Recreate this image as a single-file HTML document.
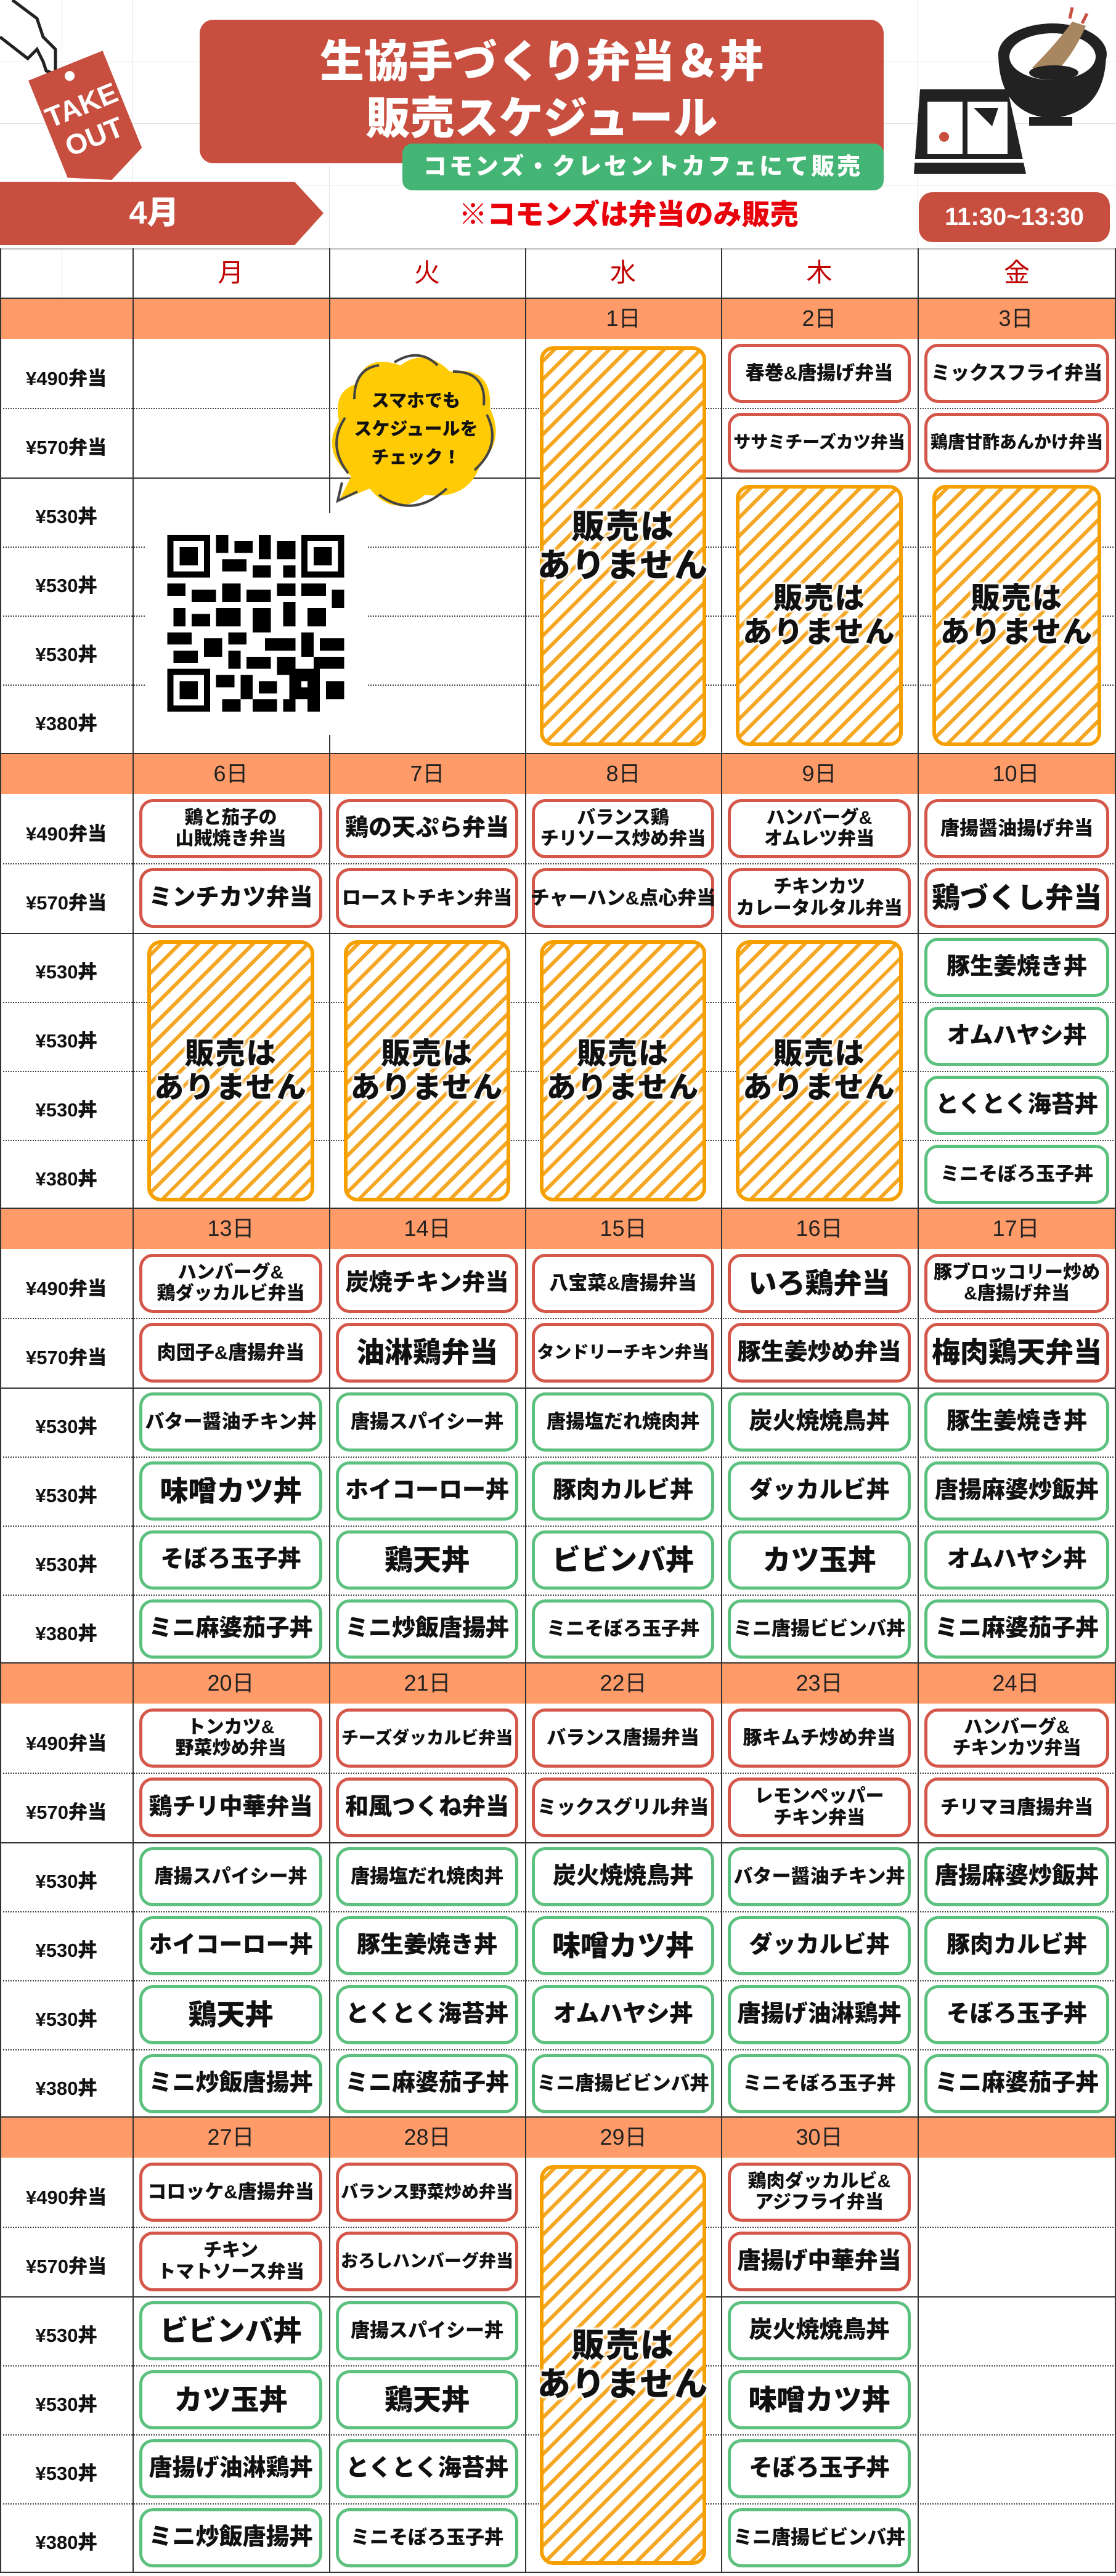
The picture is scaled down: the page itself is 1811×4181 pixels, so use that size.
<!DOCTYPE html>
<html><head><meta charset="utf-8">
<style>
*{margin:0;padding:0;box-sizing:border-box}
body{width:1811px;height:4181px;position:relative;background:#fff;font-family:"Liberation Sans","Noto Sans CJK JP",sans-serif;overflow:hidden}
.a{position:absolute}
.wk{position:absolute;left:0;width:1811px;height:740px}
.or{position:absolute;left:0;top:0;width:1811px;height:67px;background:#ff9b68}
.hs{position:absolute;left:0;width:1811px;height:0;border-top:2px solid #333}
.hd{position:absolute;left:0;width:1811px;height:0;border-top:2px dotted #444}
.vl{position:absolute;top:0;width:2px;height:740px;background:#333}
.dn{position:absolute;top:0;height:67px;width:319px;text-align:center;font-size:36px;line-height:67px;color:#222}
.lb{position:absolute;left:0;width:215px;text-align:center;font-size:31px;font-weight:900;color:#111}
.g{position:absolute;top:67px;left:215px;width:1596px;height:673px;display:grid;grid-template-columns:319px 318px 318px 319px 322px;grid-template-rows:112px 113px 112px 112px 112px 112px}
.g>div{padding:8px 11px}
.g>div>span{display:flex;width:100%;height:100%;align-items:center;justify-content:center;text-align:center;background:#fff;border-radius:22px;font-weight:900;line-height:1.15;color:#111;white-space:nowrap}
.r>span{border:5px solid #d4574a}
.n>span{border:5px solid #5cc07e}
.f1>span{font-size:46px}.f2>span{font-size:38px}.f3>span{font-size:31px}.f4>span{font-size:28px}.t>span{font-size:30px}
.h{padding:12px 24px!important}
.h>span{border:6px solid #f5a000!important;background:repeating-linear-gradient(135deg,#fff 0 9px,#f5a623 9px 15px,#fff 15px 21px)!important;font-size:48px;line-height:1.5;letter-spacing:2px;text-shadow:0 0 4px #fff,0 0 4px #fff,0 0 6px #fff,0 0 8px #fff,2px 2px 3px #fff,-2px -2px 3px #fff,2px -2px 3px #fff,-2px 2px 3px #fff}
.big>span{font-size:54px}
</style></head><body>

<div class="a" style="left:0;top:100px;width:1811px;height:1px;background:#e4e4e4"></div>
<div class="a" style="left:0;top:200px;width:1811px;height:1px;background:#e4e4e4"></div>
<div class="a" style="left:0;top:300px;width:1811px;height:1px;background:#e4e4e4"></div>
<div class="a" style="left:100px;top:0;width:1px;height:483px;background:#e4e4e4"></div>
<div class="a" style="left:215px;top:0;width:1px;height:403px;background:#e4e4e4"></div>
<div class="a" style="left:534px;top:270px;width:1px;height:133px;background:#e4e4e4"></div>
<div class="a" style="left:1489px;top:0;width:1px;height:403px;background:#e4e4e4"></div>

<svg class="a" style="left:0;top:0" width="330" height="300" viewBox="0 0 330 300">
<path d="M0 60 L45 95 L60 80 L70 100 L75 115 L90 120 L90 80 L70 60 L60 30 L20 0" fill="#fff" stroke="#222" stroke-width="5"/>
<g transform="rotate(-22 140 190)">
<path d="M75 100 L205 100 L205 270 L140 300 L75 270 Z" fill="#c84f3f"/>
<circle cx="140" cy="118" r="8" fill="#fff"/>
<text x="140" y="185" text-anchor="middle" font-size="46" font-weight="900" fill="#fff" font-family="Liberation Sans,sans-serif">TAKE</text>
<text x="140" y="240" text-anchor="middle" font-size="46" font-weight="900" fill="#fff" font-family="Liberation Sans,sans-serif">OUT</text>
</g>
</svg>

<div class="a" style="left:324px;top:32px;width:1110px;height:233px;background:#c84f3f;border-radius:22px"></div>
<div class="a" style="left:324px;top:55px;width:1110px;text-align:center;color:#fff;font-size:72px;font-weight:900;line-height:92px">生協手づくり弁当＆丼<br>販売スケジュール</div>
<div class="a" style="left:653px;top:233px;width:781px;height:76px;background:#45b575;border-radius:16px;color:#fff;font-size:38px;font-weight:900;text-align:center;line-height:76px;letter-spacing:4px">コモンズ・クレセントカフェにて販売</div>

<svg class="a" style="left:1470px;top:0" width="341" height="290" viewBox="0 0 341 290">
<path d="M270 12 L266 30 M294 22 L286 38" stroke="#c84f3f" stroke-width="5"/>
<path d="M150 85 Q150 185 235 192 Q325 185 325 85 Z" fill="#222"/>
<ellipse cx="238" cy="88" rx="88" ry="50" fill="#222"/>
<ellipse cx="238" cy="92" rx="70" ry="38" fill="#fff"/>
<path d="M205 110 Q245 70 270 35 L292 42 Q270 95 232 128 Z" fill="#a88760"/>
<ellipse cx="240" cy="118" rx="40" ry="12" fill="#222"/>
<rect x="200" y="190" width="70" height="14" fill="#222"/>
<path d="M23 145 L165 145 L195 282 L13 282 Z" fill="#222"/>
<rect x="35" y="165" width="130" height="85" fill="#fff"/>
<rect x="92" y="165" width="8" height="85" fill="#222"/>
<path d="M110 175 L150 175 L140 205 Z" fill="#222"/>
<circle cx="62" cy="222" r="8" fill="#c84f3f"/>
<rect x="13" y="258" width="182" height="6" fill="#fff"/>
</svg>

<svg class="a" style="left:0;top:295px" width="530" height="103" viewBox="0 0 530 103">
<path d="M0 0 L478 0 L525 51 L478 103 L0 103 Z" fill="#c84f3f"/>
</svg>
<div class="a" style="left:150px;top:295px;width:200px;height:103px;color:#fff;font-size:52px;font-weight:900;line-height:103px;text-align:center">4月</div>
<div class="a" style="left:640px;top:318px;width:760px;text-align:center;color:#e8000b;font-size:46px;font-weight:900;line-height:60px">※コモンズは弁当のみ販売</div>
<div class="a" style="left:1491px;top:312px;width:310px;height:81px;background:#c84f3f;border-radius:22px;color:#fff;font-size:40px;font-weight:700;line-height:81px;text-align:center">11:30~13:30</div>

<div class="a" style="left:0;top:403px;width:1811px;height:2px;background:#bbb"></div>
<div class="a" style="left:0;top:403px;width:2px;height:80px;background:#333"></div>
<div class="a" style="left:215px;top:403px;width:2px;height:80px;background:#333"></div>
<div class="a" style="left:534px;top:403px;width:2px;height:80px;background:#333"></div>
<div class="a" style="left:852px;top:403px;width:2px;height:80px;background:#333"></div>
<div class="a" style="left:1170px;top:403px;width:2px;height:80px;background:#333"></div>
<div class="a" style="left:1489px;top:403px;width:2px;height:80px;background:#333"></div>
<div class="a" style="left:1809px;top:403px;width:2px;height:80px;background:#333"></div>
<div class="a" style="top:403px;left:215px;width:319px;height:80px;line-height:80px;text-align:center;color:#c00000;font-size:42px">月</div>
<div class="a" style="top:403px;left:534px;width:318px;height:80px;line-height:80px;text-align:center;color:#c00000;font-size:42px">火</div>
<div class="a" style="top:403px;left:852px;width:318px;height:80px;line-height:80px;text-align:center;color:#c00000;font-size:42px">水</div>
<div class="a" style="top:403px;left:1170px;width:319px;height:80px;line-height:80px;text-align:center;color:#c00000;font-size:42px">木</div>
<div class="a" style="top:403px;left:1489px;width:322px;height:80px;line-height:80px;text-align:center;color:#c00000;font-size:42px">金</div>

<!-- WEEK 1 -->
<div class="wk" style="top:483px">
<div class="or"></div>
<div class="hs" style="top:0"></div><div class="hd" style="top:179px"></div><div class="hs" style="top:292px"></div><div class="hd" style="top:404px"></div><div class="hd" style="top:516px"></div><div class="hd" style="top:628px"></div><div class="hs" style="top:739px"></div>
<div class="vl" style="left:0"></div><div class="vl" style="left:215px"></div><div class="vl" style="left:534px"></div><div class="vl" style="left:852px"></div><div class="vl" style="left:1170px"></div><div class="vl" style="left:1489px"></div><div class="vl" style="left:1809px"></div>
<div class="dn" style="left:852px">1日</div><div class="dn" style="left:1170px">2日</div><div class="dn" style="left:1489px">3日</div>
<div class="lb" style="top:106px">¥490弁当</div><div class="lb" style="top:218px">¥570弁当</div><div class="lb" style="top:330px">¥530丼</div><div class="lb" style="top:442px">¥530丼</div><div class="lb" style="top:554px">¥530丼</div><div class="lb" style="top:666px">¥380丼</div>
<div class="a" style="left:236px;top:350px;width:360px;height:360px;background:#fff"></div>
<svg class="a" style="left:270px;top:385px" width="290" height="287" viewBox="0 0 29 29" shape-rendering="crispEdges">
<g fill="#000">
<rect x="0" y="0" width="7" height="7"/><rect x="22" y="0" width="7" height="7"/><rect x="0" y="22" width="7" height="7"/>
</g><g fill="#fff"><rect x="1" y="1" width="5" height="5"/><rect x="23" y="1" width="5" height="5"/><rect x="1" y="23" width="5" height="5"/></g>
<g fill="#000"><rect x="2" y="2" width="3" height="3"/><rect x="24" y="2" width="3" height="3"/><rect x="2" y="24" width="3" height="3"/>
<rect x="8" y="0" width="2" height="3"/><rect x="11" y="1" width="3" height="2"/><rect x="15" y="0" width="2" height="4"/><rect x="18" y="1" width="3" height="3"/><rect x="9" y="4" width="4" height="2"/><rect x="14" y="5" width="3" height="2"/><rect x="19" y="5" width="2" height="2"/>
<rect x="0" y="8" width="3" height="2"/><rect x="4" y="9" width="4" height="2"/><rect x="9" y="8" width="3" height="3"/><rect x="13" y="9" width="4" height="2"/><rect x="18" y="8" width="3" height="2"/><rect x="22" y="8" width="4" height="2"/><rect x="27" y="9" width="2" height="3"/>
<rect x="1" y="12" width="2" height="3"/><rect x="4" y="13" width="3" height="2"/><rect x="8" y="12" width="4" height="3"/><rect x="14" y="12" width="3" height="4"/><rect x="19" y="11" width="2" height="4"/><rect x="23" y="12" width="3" height="3"/>
<rect x="0" y="16" width="4" height="2"/><rect x="6" y="17" width="3" height="3"/><rect x="10" y="16" width="3" height="2"/><rect x="16" y="17" width="5" height="2"/><rect x="22" y="16" width="2" height="4"/><rect x="25" y="17" width="4" height="2"/>
<rect x="1" y="19" width="4" height="2"/><rect x="10" y="19" width="2" height="3"/><rect x="13" y="20" width="4" height="2"/><rect x="18" y="20" width="3" height="3"/><rect x="24" y="20" width="5" height="2"/>
<rect x="8" y="23" width="3" height="2"/><rect x="12" y="23" width="2" height="4"/><rect x="15" y="24" width="3" height="2"/><rect x="20" y="22" width="5" height="5"/><rect x="26" y="24" width="3" height="3"/>
<rect x="9" y="27" width="3" height="2"/><rect x="14" y="27" width="4" height="2"/><rect x="19" y="27" width="2" height="2"/><rect x="23" y="27" width="2" height="2"/>
</g><rect x="22" y="24" width="1" height="1" fill="#fff"/></svg>
<svg class="a" style="left:520px;top:80px" width="300" height="280" viewBox="0 0 300 280">
<path d="M60 60 Q70 10 130 30 Q170 0 210 40 Q280 30 275 100 Q300 150 260 190 Q240 250 170 240 Q120 280 80 230 L30 250 L50 210 Q0 170 30 120 Q20 70 60 60 Z" fill="#ffcb05"/>
<path d="M35 220 L28 250 L60 235" fill="none" stroke="#444" stroke-width="4"/>
<path d="M40 115 Q10 160 45 205 M95 240 Q150 280 205 230 M250 200 Q295 160 270 110 M265 95 Q270 40 215 40 M190 30 Q160 0 120 25 M95 30 Q55 35 55 85" fill="none" stroke="#444" stroke-width="4"/>
</svg>
<div class="a" style="left:560px;top:145px;width:230px;text-align:center;font-size:29px;font-weight:900;line-height:46px;color:#111">スマホでも<br>スケジュールを<br>チェック！</div>
<div class="g">
<div class="h big" style="grid-column:3;grid-row:1/7"><span>販売は<br>ありません</span></div>
<div class="r f3" style="grid-column:4;grid-row:1"><span>春巻&amp;唐揚げ弁当</span></div>
<div class="r f4" style="grid-column:4;grid-row:2"><span>ササミチーズカツ弁当</span></div>
<div class="r f3" style="grid-column:5;grid-row:1"><span>ミックスフライ弁当</span></div>
<div class="r f4" style="grid-column:5;grid-row:2"><span>鶏唐甘酢あんかけ弁当</span></div>
<div class="h" style="grid-column:4;grid-row:3/7"><span>販売は<br>ありません</span></div>
<div class="h" style="grid-column:5;grid-row:3/7"><span>販売は<br>ありません</span></div>
</div>
</div>

<!-- WEEK 2 -->
<div class="wk" style="top:1222px">
<div class="or"></div>
<div class="hs" style="top:0"></div><div class="hd" style="top:179px"></div><div class="hs" style="top:292px"></div><div class="hd" style="top:404px"></div><div class="hd" style="top:516px"></div><div class="hd" style="top:628px"></div><div class="hs" style="top:739px"></div>
<div class="vl" style="left:0"></div><div class="vl" style="left:215px"></div><div class="vl" style="left:534px"></div><div class="vl" style="left:852px"></div><div class="vl" style="left:1170px"></div><div class="vl" style="left:1489px"></div><div class="vl" style="left:1809px"></div>
<div class="dn" style="left:215px">6日</div><div class="dn" style="left:534px">7日</div><div class="dn" style="left:852px">8日</div><div class="dn" style="left:1170px">9日</div><div class="dn" style="left:1489px">10日</div>
<div class="lb" style="top:106px">¥490弁当</div><div class="lb" style="top:218px">¥570弁当</div><div class="lb" style="top:330px">¥530丼</div><div class="lb" style="top:442px">¥530丼</div><div class="lb" style="top:554px">¥530丼</div><div class="lb" style="top:666px">¥380丼</div>
<div class="g">
<div class="r t" style="grid-column:1;grid-row:1"><span>鶏と茄子の<br>山賊焼き弁当</span></div>
<div class="r f2" style="grid-column:1;grid-row:2"><span>ミンチカツ弁当</span></div>
<div class="r f2" style="grid-column:2;grid-row:1"><span>鶏の天ぷら弁当</span></div>
<div class="r f3" style="grid-column:2;grid-row:2"><span>ローストチキン弁当</span></div>
<div class="r t" style="grid-column:3;grid-row:1"><span>バランス鶏<br>チリソース炒め弁当</span></div>
<div class="r f3" style="grid-column:3;grid-row:2"><span>チャーハン&amp;点心弁当</span></div>
<div class="r t" style="grid-column:4;grid-row:1"><span>ハンバーグ&amp;<br>オムレツ弁当</span></div>
<div class="r t" style="grid-column:4;grid-row:2"><span>チキンカツ<br>カレータルタル弁当</span></div>
<div class="r f3" style="grid-column:5;grid-row:1"><span>唐揚醤油揚げ弁当</span></div>
<div class="r f1" style="grid-column:5;grid-row:2"><span>鶏づくし弁当</span></div>
<div class="h" style="grid-column:1;grid-row:3/7"><span>販売は<br>ありません</span></div>
<div class="h" style="grid-column:2;grid-row:3/7"><span>販売は<br>ありません</span></div>
<div class="h" style="grid-column:3;grid-row:3/7"><span>販売は<br>ありません</span></div>
<div class="h" style="grid-column:4;grid-row:3/7"><span>販売は<br>ありません</span></div>
<div class="n f2" style="grid-column:5;grid-row:3"><span>豚生姜焼き丼</span></div>
<div class="n f2" style="grid-column:5;grid-row:4"><span>オムハヤシ丼</span></div>
<div class="n f2" style="grid-column:5;grid-row:5"><span>とくとく海苔丼</span></div>
<div class="n f3" style="grid-column:5;grid-row:6"><span>ミニそぼろ玉子丼</span></div>
</div>
</div>

<!-- WEEK 3 -->
<div class="wk" style="top:1960px">
<div class="or"></div>
<div class="hs" style="top:0"></div><div class="hd" style="top:179px"></div><div class="hs" style="top:292px"></div><div class="hd" style="top:404px"></div><div class="hd" style="top:516px"></div><div class="hd" style="top:628px"></div><div class="hs" style="top:739px"></div>
<div class="vl" style="left:0"></div><div class="vl" style="left:215px"></div><div class="vl" style="left:534px"></div><div class="vl" style="left:852px"></div><div class="vl" style="left:1170px"></div><div class="vl" style="left:1489px"></div><div class="vl" style="left:1809px"></div>
<div class="dn" style="left:215px">13日</div><div class="dn" style="left:534px">14日</div><div class="dn" style="left:852px">15日</div><div class="dn" style="left:1170px">16日</div><div class="dn" style="left:1489px">17日</div>
<div class="lb" style="top:106px">¥490弁当</div><div class="lb" style="top:218px">¥570弁当</div><div class="lb" style="top:330px">¥530丼</div><div class="lb" style="top:442px">¥530丼</div><div class="lb" style="top:554px">¥530丼</div><div class="lb" style="top:666px">¥380丼</div>
<div class="g">
<div class="r t" style="grid-column:1;grid-row:1"><span>ハンバーグ&amp;<br>鶏ダッカルビ弁当</span></div>
<div class="r f3" style="grid-column:1;grid-row:2"><span>肉団子&amp;唐揚弁当</span></div>
<div class="n f3" style="grid-column:1;grid-row:3"><span>バター醤油チキン丼</span></div>
<div class="n f1" style="grid-column:1;grid-row:4"><span>味噌カツ丼</span></div>
<div class="n f2" style="grid-column:1;grid-row:5"><span>そぼろ玉子丼</span></div>
<div class="n f2" style="grid-column:1;grid-row:6"><span>ミニ麻婆茄子丼</span></div>
<div class="r f2" style="grid-column:2;grid-row:1"><span>炭焼チキン弁当</span></div>
<div class="r f1" style="grid-column:2;grid-row:2"><span>油淋鶏弁当</span></div>
<div class="n f3" style="grid-column:2;grid-row:3"><span>唐揚スパイシー丼</span></div>
<div class="n f2" style="grid-column:2;grid-row:4"><span>ホイコーロー丼</span></div>
<div class="n f1" style="grid-column:2;grid-row:5"><span>鶏天丼</span></div>
<div class="n f2" style="grid-column:2;grid-row:6"><span>ミニ炒飯唐揚丼</span></div>
<div class="r f3" style="grid-column:3;grid-row:1"><span>八宝菜&amp;唐揚弁当</span></div>
<div class="r f4" style="grid-column:3;grid-row:2"><span>タンドリーチキン弁当</span></div>
<div class="n f3" style="grid-column:3;grid-row:3"><span>唐揚塩だれ焼肉丼</span></div>
<div class="n f2" style="grid-column:3;grid-row:4"><span>豚肉カルビ丼</span></div>
<div class="n f1" style="grid-column:3;grid-row:5"><span>ビビンバ丼</span></div>
<div class="n f3" style="grid-column:3;grid-row:6"><span>ミニそぼろ玉子丼</span></div>
<div class="r f1" style="grid-column:4;grid-row:1"><span>いろ鶏弁当</span></div>
<div class="r f2" style="grid-column:4;grid-row:2"><span>豚生姜炒め弁当</span></div>
<div class="n f2" style="grid-column:4;grid-row:3"><span>炭火焼焼鳥丼</span></div>
<div class="n f2" style="grid-column:4;grid-row:4"><span>ダッカルビ丼</span></div>
<div class="n f1" style="grid-column:4;grid-row:5"><span>カツ玉丼</span></div>
<div class="n f3" style="grid-column:4;grid-row:6"><span>ミニ唐揚ビビンバ丼</span></div>
<div class="r t" style="grid-column:5;grid-row:1"><span>豚ブロッコリー炒め<br>&amp;唐揚げ弁当</span></div>
<div class="r f1" style="grid-column:5;grid-row:2"><span>梅肉鶏天弁当</span></div>
<div class="n f2" style="grid-column:5;grid-row:3"><span>豚生姜焼き丼</span></div>
<div class="n f2" style="grid-column:5;grid-row:4"><span>唐揚麻婆炒飯丼</span></div>
<div class="n f2" style="grid-column:5;grid-row:5"><span>オムハヤシ丼</span></div>
<div class="n f2" style="grid-column:5;grid-row:6"><span>ミニ麻婆茄子丼</span></div>
</div>
</div>

<!-- WEEK 4 -->
<div class="wk" style="top:2698px">
<div class="or"></div>
<div class="hs" style="top:0"></div><div class="hd" style="top:179px"></div><div class="hs" style="top:292px"></div><div class="hd" style="top:404px"></div><div class="hd" style="top:516px"></div><div class="hd" style="top:628px"></div><div class="hs" style="top:739px"></div>
<div class="vl" style="left:0"></div><div class="vl" style="left:215px"></div><div class="vl" style="left:534px"></div><div class="vl" style="left:852px"></div><div class="vl" style="left:1170px"></div><div class="vl" style="left:1489px"></div><div class="vl" style="left:1809px"></div>
<div class="dn" style="left:215px">20日</div><div class="dn" style="left:534px">21日</div><div class="dn" style="left:852px">22日</div><div class="dn" style="left:1170px">23日</div><div class="dn" style="left:1489px">24日</div>
<div class="lb" style="top:106px">¥490弁当</div><div class="lb" style="top:218px">¥570弁当</div><div class="lb" style="top:330px">¥530丼</div><div class="lb" style="top:442px">¥530丼</div><div class="lb" style="top:554px">¥530丼</div><div class="lb" style="top:666px">¥380丼</div>
<div class="g">
<div class="r t" style="grid-column:1;grid-row:1"><span>トンカツ&amp;<br>野菜炒め弁当</span></div>
<div class="r f2" style="grid-column:1;grid-row:2"><span>鶏チリ中華弁当</span></div>
<div class="n f3" style="grid-column:1;grid-row:3"><span>唐揚スパイシー丼</span></div>
<div class="n f2" style="grid-column:1;grid-row:4"><span>ホイコーロー丼</span></div>
<div class="n f1" style="grid-column:1;grid-row:5"><span>鶏天丼</span></div>
<div class="n f2" style="grid-column:1;grid-row:6"><span>ミニ炒飯唐揚丼</span></div>
<div class="r f4" style="grid-column:2;grid-row:1"><span>チーズダッカルビ弁当</span></div>
<div class="r f2" style="grid-column:2;grid-row:2"><span>和風つくね弁当</span></div>
<div class="n f3" style="grid-column:2;grid-row:3"><span>唐揚塩だれ焼肉丼</span></div>
<div class="n f2" style="grid-column:2;grid-row:4"><span>豚生姜焼き丼</span></div>
<div class="n f2" style="grid-column:2;grid-row:5"><span>とくとく海苔丼</span></div>
<div class="n f2" style="grid-column:2;grid-row:6"><span>ミニ麻婆茄子丼</span></div>
<div class="r f3" style="grid-column:3;grid-row:1"><span>バランス唐揚弁当</span></div>
<div class="r f3" style="grid-column:3;grid-row:2"><span>ミックスグリル弁当</span></div>
<div class="n f2" style="grid-column:3;grid-row:3"><span>炭火焼焼鳥丼</span></div>
<div class="n f1" style="grid-column:3;grid-row:4"><span>味噌カツ丼</span></div>
<div class="n f2" style="grid-column:3;grid-row:5"><span>オムハヤシ丼</span></div>
<div class="n f3" style="grid-column:3;grid-row:6"><span>ミニ唐揚ビビンバ丼</span></div>
<div class="r f3" style="grid-column:4;grid-row:1"><span>豚キムチ炒め弁当</span></div>
<div class="r t" style="grid-column:4;grid-row:2"><span>レモンペッパー<br>チキン弁当</span></div>
<div class="n f3" style="grid-column:4;grid-row:3"><span>バター醤油チキン丼</span></div>
<div class="n f2" style="grid-column:4;grid-row:4"><span>ダッカルビ丼</span></div>
<div class="n f2" style="grid-column:4;grid-row:5"><span>唐揚げ油淋鶏丼</span></div>
<div class="n f3" style="grid-column:4;grid-row:6"><span>ミニそぼろ玉子丼</span></div>
<div class="r t" style="grid-column:5;grid-row:1"><span>ハンバーグ&amp;<br>チキンカツ弁当</span></div>
<div class="r f3" style="grid-column:5;grid-row:2"><span>チリマヨ唐揚弁当</span></div>
<div class="n f2" style="grid-column:5;grid-row:3"><span>唐揚麻婆炒飯丼</span></div>
<div class="n f2" style="grid-column:5;grid-row:4"><span>豚肉カルビ丼</span></div>
<div class="n f2" style="grid-column:5;grid-row:5"><span>そぼろ玉子丼</span></div>
<div class="n f2" style="grid-column:5;grid-row:6"><span>ミニ麻婆茄子丼</span></div>
</div>
</div>

<!-- WEEK 5 -->
<div class="wk" style="top:3435px">
<div class="or"></div>
<div class="hs" style="top:0"></div><div class="hd" style="top:179px"></div><div class="hs" style="top:292px"></div><div class="hd" style="top:404px"></div><div class="hd" style="top:516px"></div><div class="hd" style="top:628px"></div><div class="hs" style="top:739px"></div>
<div class="vl" style="left:0"></div><div class="vl" style="left:215px"></div><div class="vl" style="left:534px"></div><div class="vl" style="left:852px"></div><div class="vl" style="left:1170px"></div><div class="vl" style="left:1489px"></div><div class="vl" style="left:1809px"></div>
<div class="dn" style="left:215px">27日</div><div class="dn" style="left:534px">28日</div><div class="dn" style="left:852px">29日</div><div class="dn" style="left:1170px">30日</div>
<div class="lb" style="top:106px">¥490弁当</div><div class="lb" style="top:218px">¥570弁当</div><div class="lb" style="top:330px">¥530丼</div><div class="lb" style="top:442px">¥530丼</div><div class="lb" style="top:554px">¥530丼</div><div class="lb" style="top:666px">¥380丼</div>
<div class="g">
<div class="r f3" style="grid-column:1;grid-row:1"><span>コロッケ&amp;唐揚弁当</span></div>
<div class="r t" style="grid-column:1;grid-row:2"><span>チキン<br>トマトソース弁当</span></div>
<div class="n f1" style="grid-column:1;grid-row:3"><span>ビビンバ丼</span></div>
<div class="n f1" style="grid-column:1;grid-row:4"><span>カツ玉丼</span></div>
<div class="n f2" style="grid-column:1;grid-row:5"><span>唐揚げ油淋鶏丼</span></div>
<div class="n f2" style="grid-column:1;grid-row:6"><span>ミニ炒飯唐揚丼</span></div>
<div class="r f4" style="grid-column:2;grid-row:1"><span>バランス野菜炒め弁当</span></div>
<div class="r f4" style="grid-column:2;grid-row:2"><span>おろしハンバーグ弁当</span></div>
<div class="n f3" style="grid-column:2;grid-row:3"><span>唐揚スパイシー丼</span></div>
<div class="n f1" style="grid-column:2;grid-row:4"><span>鶏天丼</span></div>
<div class="n f2" style="grid-column:2;grid-row:5"><span>とくとく海苔丼</span></div>
<div class="n f3" style="grid-column:2;grid-row:6"><span>ミニそぼろ玉子丼</span></div>
<div class="h big" style="grid-column:3;grid-row:1/7"><span>販売は<br>ありません</span></div>
<div class="r t" style="grid-column:4;grid-row:1"><span>鶏肉ダッカルビ&amp;<br>アジフライ弁当</span></div>
<div class="r f2" style="grid-column:4;grid-row:2"><span>唐揚げ中華弁当</span></div>
<div class="n f2" style="grid-column:4;grid-row:3"><span>炭火焼焼鳥丼</span></div>
<div class="n f1" style="grid-column:4;grid-row:4"><span>味噌カツ丼</span></div>
<div class="n f2" style="grid-column:4;grid-row:5"><span>そぼろ玉子丼</span></div>
<div class="n f3" style="grid-column:4;grid-row:6"><span>ミニ唐揚ビビンバ丼</span></div>
</div>
</div>

</body></html>
